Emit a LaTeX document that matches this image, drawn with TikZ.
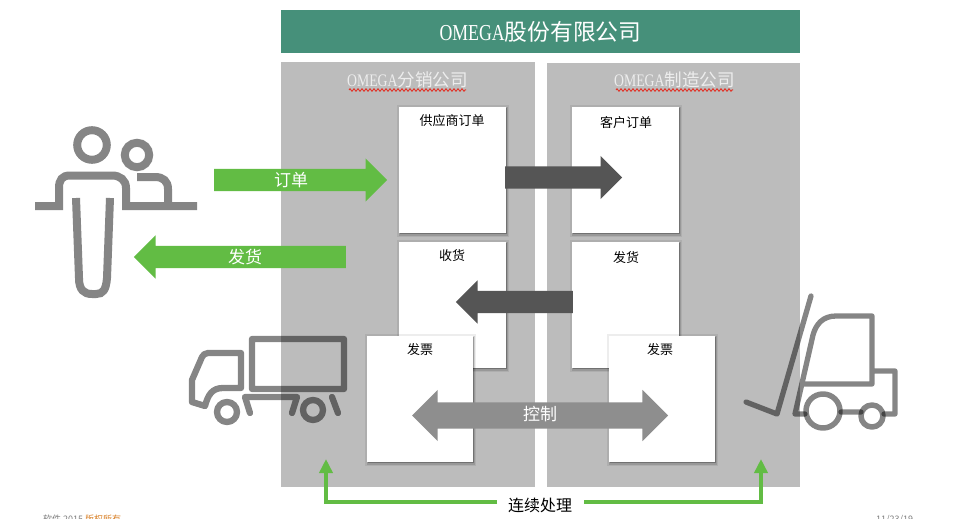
\documentclass[tikz,border=0pt]{standalone}
\usepackage{fontspec}
\setmainfont{Noto Sans CJK SC}
\newfontfamily\narrowlatin[FakeStretch=0.78]{Liberation Serif}
\usetikzlibrary{shapes.arrows,shadows,decorations.pathmorphing,arrows.meta}
\definecolor{teal}{HTML}{46907A}
\definecolor{panelgray}{HTML}{BCBCBC}
\definecolor{leafgreen}{HTML}{62BC44}
\definecolor{slate}{HTML}{555555}
\definecolor{midgray}{HTML}{8E8E8E}
\definecolor{icongray}{HTML}{858585}
\definecolor{squiggle}{HTML}{E0352A}
\newcommand{\px}[1]{\fontsize{#1}{#1}\selectfont}
\tikzset{
  x=1pt, y=-1pt,
  panel/.style={fill=panelgray, draw=none},
  card/.style={fill=white, draw=none, inner sep=0pt, minimum width=107pt, minimum height=126pt, anchor=north west,
    general shadow={fill=black, opacity=.07, shadow xshift=0.5pt, shadow yshift=-0.5pt, shadow scale=1.05},
    general shadow={fill=black, opacity=.12, shadow xshift=0.7pt, shadow yshift=-0.9pt, shadow scale=1.025},
    general shadow={fill=black, opacity=.25, shadow xshift=0.5pt, shadow yshift=-1pt}},
  cardtext/.style={font=\px{13}, text=black, inner sep=0pt},
  flowarrow/.style={single arrow, draw=none, inner sep=0pt, single arrow head extend=10.5pt, anchor=tail, minimum width=43pt},
  flowtext/.style={font=\px{17}, text=white, inner sep=0pt},
  heading/.style={font=\px{17.6}, text=white!93!black, inner sep=0pt},
  wavy/.style={squiggle, line width=1pt, decorate, decoration={zigzag, segment length=4pt, amplitude=1.1pt}},
  person/.style={icongray, line width=8pt, line join=miter, fill=none},
  vehicle/.style={black, draw opacity=.48, line width=6.3pt, line join=round, line cap=round, fill=none},
}
% invisible strut that sets the shaft thickness of a block arrow
\newcommand{\shaft}[1]{\rule{0pt}{#1}}
\begin{document}
\begin{tikzpicture}
\useasboundingbox (0,0) rectangle (962,519);
\fill[white] (0,0) rectangle (962,519);

% company banner and the two subsidiaries
\fill[teal] (281,10) rectangle (800,53);
\node[font=\px{22.8}, text=white, inner sep=0pt] (company) at (540.5,32) {{\narrowlatin OMEGA}股份有限公司};
\fill[panel] (281,62) rectangle (535,487);
\fill[panel] (547,63) rectangle (800,487);
\node[heading] (sales) at (407.5,80) {{\narrowlatin OMEGA}分销公司};
\node[heading] (plant) at (674.5,80) {{\narrowlatin OMEGA}制造公司};
\coordinate (salesA) at (349,90); \coordinate (salesB) at (466,90);
\coordinate (plantA) at (616,90); \coordinate (plantB) at (733,90);
\draw[wavy] (salesA) -- (salesB);
\draw[wavy] (plantA) -- (plantB);

% document cards
\node[card] (supplier) at (399,107) {};
\node[card] (customer) at (572,107) {};
\node[card] (receive) at (399,242) {};
\node[card] (ship) at (572,242) {};
\node[card, minimum width=106pt] (billL) at (367,336) {};
\node[card, minimum width=106pt] (billR) at (609,336) {};
\node[cardtext] (supplierT) at (452,121) {供应商订单};
\node[cardtext] (customerT) at (626,123) {客户订单};
\node[cardtext] (receiveT) at (452,256) {收货};
\node[cardtext] (shipT) at (626,258) {发货};
\node[cardtext] (billLT) at (420,350) {发票};
\node[cardtext] (billRT) at (660,350) {发票};

% block arrows
\node[flowarrow, fill=leafgreen, minimum height=173pt] (orderA) at (214,180) {\shaft{22pt}};
\node[flowtext] (orderT) at (291,180) {订单};
\node[flowarrow, fill=leafgreen, minimum height=212pt, shape border rotate=180] (deliverA) at (346,257) {\shaft{22pt}};
\node[flowtext] (deliverT) at (245,257) {发货};
\node[flowarrow, fill=slate, minimum height=117pt] (fwd) at (505,177.5) {\shaft{22pt}};
\node[flowarrow, fill=slate, minimum height=117pt, shape border rotate=180] (back) at (573,302) {\shaft{22pt}};
\node[double arrow, draw=none, fill=midgray, inner sep=0pt, double arrow head extend=12.5pt,
      minimum width=51pt, minimum height=256pt] (control) at (540,415.5) {\shaft{26pt}};
\node[flowtext] (controlT) at (540,414) {控制};

% customer at the counter
\draw[icongray, line width=8pt] (92,145) circle[radius=14.8];
\draw[icongray, line width=8pt] (137,155) circle[radius=12.2];
\draw[person] (35,206) -- (59,206) -- (59,188)
  .. controls (59,180) and (62,175.5) .. (70,175.5) -- (112,175.5)
  .. controls (120,175.5) and (126,180) .. (126,188) -- (126,206) -- (197,206);
\draw[person] (137,177) -- (155,177) .. controls (163,177) and (168,181) .. (168,189) -- (168,206);
\draw[person] (76,198) -- (79,278) .. controls (79,290) and (84,294) .. (92,294)
  -- (96,294) .. controls (103,294) and (106,290) .. (107,278) -- (110,198);

% delivery truck
\draw[vehicle, line cap=butt]
  (252,339) rectangle (344,389)
  (241,388) -- (241,353) -- (208,353) .. controls (205,353) and (203,355) .. (202,357)
  -- (192,380) -- (192,402) -- (205,406) .. controls (208,395) and (212,388) .. (223,388) -- cycle
  (227,412) circle[radius=10]
  (313,410) circle[radius=10];
\draw[vehicle]
  (250,413) -- (245,397) -- (297,397) -- (292,413)
  (332,397) -- (338,413);

% forklift
\draw[vehicle, line width=5.3pt]
  (811,296) -- (777,414) -- (746,402)
  (872,371) -- (895,371) -- (895,414) -- (884,414)
  (841,412) -- (861,412)
  (805,414) -- (795,414) -- (813,335) .. controls (816,324) and (823,316) .. (836,316)
  -- (872,316) -- (872,384) -- (802,384);
\draw[vehicle, line width=5.5pt] (823,411) circle[radius=17];
\draw[vehicle, line width=5.5pt] (872,416) circle[radius=11];

% continuous processing feedback
\node[font=\px{16}, text=black, inner sep=0pt] (loop) at (540,505) {连续处理};
\coordinate (loopL) at (497,502); \coordinate (loopR) at (584,502);
\coordinate (tipL) at (326,459); \coordinate (tipR) at (761,459);
\draw[leafgreen, line width=4pt, -{Triangle[length=14pt,width=13pt]}] (loopL) -| (tipL);
\draw[leafgreen, line width=4pt, -{Triangle[length=14pt,width=13pt]}] (loopR) -| (tipR);

% slide footer, cut by the lower edge
\node[font=\px{9}, text=gray, inner sep=0pt, anchor=west] (footL) at (43,519.5) {软件 2015 {\color{orange!70!gray}版权所有}};
\node[font=\px{9}, text=gray, inner sep=0pt, anchor=west] (footR) at (876,519.5) {11/23/19};
\end{tikzpicture}
\end{document}
